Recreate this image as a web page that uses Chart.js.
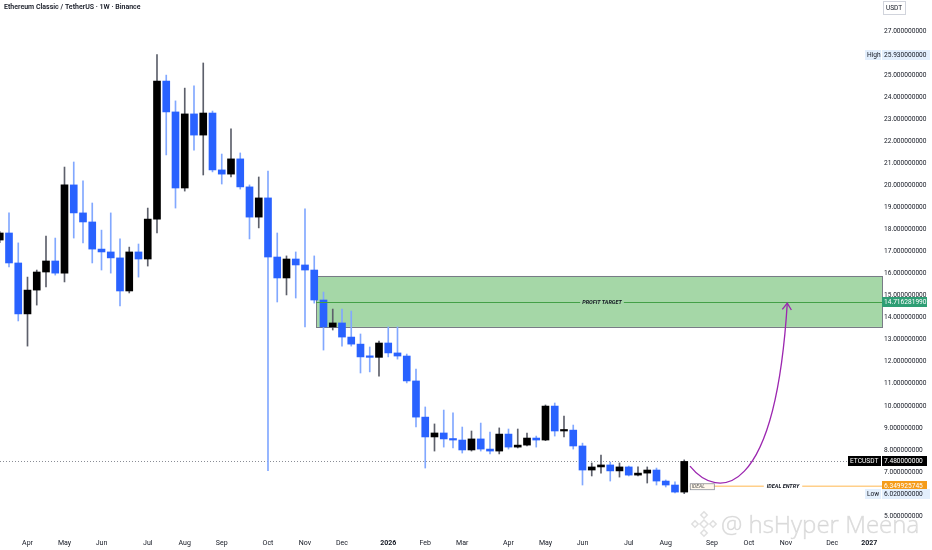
<!DOCTYPE html>
<html>
<head>
<meta charset="utf-8">
<title>ETCUSDT 1W</title>
<script src="https://cdn.jsdelivr.net/npm/chart.js@4.4.1/dist/chart.umd.min.js"></script>
<style>
    html, body { margin: 0; padding: 0; background: #fff; }
    #wrap { width: 932px; height: 550px; }
</style>
</head>
<body>
<div id="wrap"><canvas id="etc-chart" width="932" height="550"></canvas></div>
<script>
// Weekly candles, week of Mar 17 2025 -> week of Aug 17 2026 (x = bar number)
const opens = [
    17.52, 17.84, 16.48, 14.17, 15.25, 16.07, 16.57, 16.02, 20.02, 18.75,
    18.34, 17.11, 16.98, 16.71, 15.21, 16.98, 16.66, 18.47, 24.73, 23.33,
    19.88, 23.24, 22.28, 23.28, 20.70, 20.51, 21.20, 19.93, 18.56, 19.43,
    16.75, 15.80, 16.66, 16.39, 16.16, 14.80, 13.58, 13.76, 13.12, 12.80,
    12.22, 12.20, 12.85, 12.40, 12.26, 11.13, 9.49, 8.59, 8.77, 8.50,
    8.45, 8.00, 8.50, 8.04, 7.95, 8.72, 8.13, 8.22, 8.54, 8.45,
    9.99, 8.86, 8.90, 8.18, 7.09, 7.23, 7.32, 7.05, 7.23, 6.86,
    6.95, 7.09, 6.59, 6.41, 6.09
];
const highs = [
    17.90, 18.75, 17.39, 15.84, 16.16, 17.70, 17.61, 20.83, 21.06, 20.20,
    19.20, 17.97, 18.75, 17.57, 17.20, 17.34, 18.97, 25.93, 25.00, 23.83,
    24.41, 24.51, 25.55, 23.37, 21.42, 22.56, 21.47, 20.02, 20.38, 20.65,
    17.84, 16.80, 16.98, 18.93, 16.80, 15.16, 14.39, 14.39, 14.30, 13.26,
    12.67, 12.94, 13.58, 13.58, 12.35, 11.67, 9.95, 9.18, 9.81, 9.68,
    9.04, 8.86, 9.22, 8.81, 9.00, 8.95, 8.95, 8.77, 8.63, 10.04,
    10.13, 9.54, 9.13, 8.31, 7.41, 7.77, 7.45, 7.41, 7.27, 7.23,
    7.23, 7.18, 6.64, 6.55, 7.55
];
const lows = [
    17.40, 16.30, 13.85, 12.71, 14.57, 15.39, 15.93, 15.62, 17.61, 17.39,
    16.48, 16.16, 16.02, 14.53, 15.12, 15.84, 16.34, 17.84, 21.38, 18.97,
    19.74, 21.60, 20.47, 20.61, 20.06, 20.38, 19.83, 17.57, 18.07, 7.06,
    14.71, 15.03, 14.89, 13.58, 14.66, 12.53, 13.44, 12.71, 12.71, 11.49,
    11.54, 11.35, 12.22, 12.12, 11.04, 9.04, 7.18, 7.95, 8.13, 8.09,
    7.86, 7.95, 7.95, 7.82, 7.82, 8.04, 8.09, 8.18, 8.13, 8.42,
    8.63, 8.59, 8.04, 6.41, 6.82, 6.95, 6.59, 6.77, 6.82, 6.82,
    6.50, 6.41, 6.32, 6.05, 6.02
];
const closes = [
    17.84, 16.48, 14.17, 15.25, 16.07, 16.57, 16.02, 20.02, 18.75, 18.34,
    17.11, 16.98, 16.71, 15.21, 16.98, 16.66, 18.47, 24.73, 23.33, 19.88,
    23.24, 22.28, 23.28, 20.70, 20.51, 21.20, 19.93, 18.56, 19.43, 16.75,
    15.80, 16.66, 16.39, 16.16, 14.80, 13.58, 13.76, 13.12, 12.80, 12.22,
    12.20, 12.85, 12.40, 12.26, 11.13, 9.49, 8.59, 8.77, 8.50, 8.45,
    8.00, 8.50, 8.04, 7.95, 8.72, 8.13, 8.22, 8.54, 8.45, 9.99,
    8.86, 8.90, 8.18, 7.09, 7.23, 7.32, 7.05, 7.23, 6.86, 6.95,
    7.09, 6.59, 6.41, 6.09, 7.48
];

// Time axis: bar number of the first week of each month, and its label
const monthTickIdx = [3, 7, 11, 16, 20, 24, 29, 33, 37, 42, 46, 50, 55, 59, 63, 68, 72, 77, 81, 85, 90, 94];
const monthTickLabels = ['Apr', 'May', 'Jun', 'Jul', 'Aug', 'Sep', 'Oct', 'Nov', 'Dec', '2026', 'Feb', 'Mar',
    'Apr', 'May', 'Jun', 'Jul', 'Aug', 'Sep', 'Oct', 'Nov', 'Dec', '2027'];

// Price axis ticks
const priceTicks = [5, 6, 7, 8, 9, 10, 11, 12, 13, 14, 15, 16, 17, 18, 19, 20, 21, 22, 23, 24, 25, 26, 27];

// Levels and drawings (bar number / price)
const lastPrice = 7.48;
const highPrice = 25.93;
const lowPrice = 6.02;
const profitTarget = 14.716281990;
const zoneRange = [34.2, 13.58, 15.89];      // start bar, bottom, top
const idealEntry = 6.349925745;
const idealBox = [74.6, 77.2, 6.22, 6.49];    // bar from, bar to, price low, price high
const curveBars = [74.62, 77.6, 83.81, 85.14];
const curvePrices = [7.27, 5.73, 5.73, 14.66];

const FONT = 'Roboto, "Liberation Sans", sans-serif';
const TEXT = '#131722';

function fmt(v) {
    return Number(v).toFixed(9);
}

function tag(ctx, text, x, yc, w, bg, fg) {
    ctx.fillStyle = bg;
    ctx.fillRect(x, Math.round(yc) - 5, w, 10);
    ctx.fillStyle = fg;
    ctx.textAlign = 'left';
    ctx.textBaseline = 'middle';
    ctx.fillText(text, x + 2, Math.round(yc) + 0.5);
}

const overlayPlugin = {
    id: 'overlays',

    beforeDatasetsDraw(chart) {
        const { ctx, chartArea: a, scales: { x, y } } = chart;
        ctx.save();

        // profit target zone
        const zx = x.getPixelForValue(zoneRange[0]);
        const zb = y.getPixelForValue(zoneRange[1]);
        const zt = y.getPixelForValue(zoneRange[2]);
        ctx.fillStyle = 'rgba(76, 175, 80, 0.5)';
        ctx.fillRect(zx, zt, a.right - zx, zb - zt);
        ctx.strokeStyle = '#787b86';
        ctx.lineWidth = 1;
        ctx.strokeRect(Math.round(zx) + 0.5, Math.round(zt) + 0.5, a.right - Math.round(zx), Math.round(zb - zt));

        // last price dotted line
        const ly = Math.round(y.getPixelForValue(lastPrice)) + 0.5;
        ctx.strokeStyle = '#8a8d96';
        ctx.setLineDash([1, 2]);
        ctx.beginPath();
        ctx.moveTo(a.left, ly);
        ctx.lineTo(a.right, ly);
        ctx.stroke();
        ctx.setLineDash([]);
        ctx.restore();
    },

    afterDatasetsDraw(chart) {
        const { ctx, chartArea: a, scales: { x, y } } = chart;
        ctx.save();

        // profit target line with label
        const zx = x.getPixelForValue(zoneRange[0]);
        const py = Math.round(y.getPixelForValue(profitTarget)) + 0.5;
        ctx.font = 'italic bold 5.5px ' + FONT;
        const ptText = 'PROFIT TARGET';
        const ptW = ctx.measureText(ptText).width;
        const ptX = 602;
        ctx.strokeStyle = '#43a047';
        ctx.lineWidth = 1;
        ctx.beginPath();
        ctx.moveTo(zx, py);
        ctx.lineTo(ptX - ptW / 2 - 2, py);
        ctx.moveTo(ptX + ptW / 2 + 2, py);
        ctx.lineTo(a.right, py);
        ctx.stroke();
        ctx.fillStyle = TEXT;
        ctx.textAlign = 'center';
        ctx.textBaseline = 'middle';
        ctx.fillText(ptText, ptX, py);

        // ideal entry line + box
        const ey = y.getPixelForValue(idealEntry);
        const ex0 = x.getPixelForValue(idealBox[0]);
        const ex1 = x.getPixelForValue(idealBox[1]);
        const ieText = 'IDEAL ENTRY';
        const ieW = ctx.measureText(ieText).width;
        const ieX = 783;
        ctx.strokeStyle = '#ffcf8a';
        ctx.lineWidth = 1.5;
        ctx.beginPath();
        ctx.moveTo(ex0, ey);
        ctx.lineTo(ieX - ieW / 2 - 3, ey);
        ctx.moveTo(ieX + ieW / 2 + 3, ey);
        ctx.lineTo(a.right, ey);
        ctx.stroke();
        ctx.fillStyle = TEXT;
        ctx.fillText(ieText, ieX, ey);

        const by0 = y.getPixelForValue(idealBox[3]);
        const by1 = y.getPixelForValue(idealBox[2]);
        ctx.fillStyle = '#fff8ec';
        ctx.fillRect(ex0, by0, ex1 - ex0, by1 - by0);
        ctx.strokeStyle = '#8a8d96';
        ctx.lineWidth = 0.8;
        ctx.strokeRect(ex0 + 0.5, by0 + 0.5, ex1 - ex0, by1 - by0);
        ctx.fillStyle = '#555';
        ctx.textAlign = 'left';
        ctx.font = 'italic 5px ' + FONT;
        ctx.fillText('IDEAL', ex0 + 2, (by0 + by1) / 2 + 0.5);

        // projected path
        const p = curveBars.map((b, i) => [x.getPixelForValue(b), y.getPixelForValue(curvePrices[i])]);
        ctx.strokeStyle = '#9c27b0';
        ctx.lineWidth = 1.3;
        ctx.beginPath();
        ctx.moveTo(p[0][0], p[0][1]);
        ctx.bezierCurveTo(p[1][0], p[1][1], p[2][0], p[2][1], p[3][0], p[3][1]);
        ctx.stroke();
        const ang = Math.atan2(p[3][1] - p[2][1], p[3][0] - p[2][0]);
        ctx.beginPath();
        ctx.moveTo(p[3][0] - 8 * Math.cos(ang - 0.6), p[3][1] - 8 * Math.sin(ang - 0.6));
        ctx.lineTo(p[3][0], p[3][1]);
        ctx.lineTo(p[3][0] - 8 * Math.cos(ang + 0.6), p[3][1] - 8 * Math.sin(ang + 0.6));
        ctx.stroke();

        ctx.restore();
    },

    afterDraw(chart) {
        const { ctx, chartArea: a, scales: { y } } = chart;
        ctx.save();

        // watermark
        ctx.strokeStyle = 'rgba(150, 150, 150, 0.3)';
        ctx.lineWidth = 1.5;
        const lx = 704, lyc = 524;
        [[0, -9], [-9, 0], [9, 0], [0, 9], [0, 0]].forEach(([dx, dy], k) => {
            const s = k === 4 ? 4 : 3.2;
            ctx.beginPath();
            ctx.moveTo(lx + dx, lyc + dy - s);
            ctx.lineTo(lx + dx + s, lyc + dy);
            ctx.lineTo(lx + dx, lyc + dy + s);
            ctx.lineTo(lx + dx - s, lyc + dy);
            ctx.closePath();
            ctx.stroke();
        });
        ctx.font = '300 24px "Open Sans", sans-serif';
        ctx.fillStyle = 'rgba(130, 130, 130, 0.22)';
        ctx.strokeStyle = 'rgba(120, 120, 120, 0.18)';
        ctx.lineWidth = 0.6;
        ctx.textAlign = 'left';
        ctx.textBaseline = 'alphabetic';
        ctx.fillText('@ hsHyper Meena', 721, 533);
        ctx.strokeText('@ hsHyper Meena', 721, 533);

        // title
        ctx.font = '600 7px ' + FONT;
        ctx.fillStyle = TEXT;
        ctx.textBaseline = 'middle';
        ctx.fillText('Ethereum Classic / TetherUS · 1W · Binance', 4, 7.5);

        // currency box
        ctx.strokeStyle = '#d1d4dc';
        ctx.lineWidth = 1;
        ctx.strokeRect(883.5, 1.5, 22, 13);
        ctx.font = '6.5px ' + FONT;
        ctx.fillText('USDT', 886, 8.5);

        // price axis tags
        const ax = a.right;
        ctx.font = '6.6px ' + FONT;
        tag(ctx, 'High', ax - 17, y.getPixelForValue(highPrice), 16, '#e3effd', TEXT);
        tag(ctx, fmt(highPrice), ax, y.getPixelForValue(highPrice), 48, '#e3effd', TEXT);
        tag(ctx, 'ETCUSDT', ax - 34, y.getPixelForValue(lastPrice), 33, '#000', '#fff');
        tag(ctx, fmt(lastPrice), ax, y.getPixelForValue(lastPrice), 45, '#000', '#fff');
        tag(ctx, profitTarget.toFixed(9), ax, y.getPixelForValue(profitTarget), 45, '#2e9e74', '#fff');
        tag(ctx, idealEntry.toFixed(9), ax, y.getPixelForValue(idealEntry), 45, '#f59c1a', '#fff');
        tag(ctx, 'Low', ax - 17, y.getPixelForValue(lowPrice), 16, '#e3effd', TEXT);
        tag(ctx, fmt(lowPrice), ax, y.getPixelForValue(lowPrice), 48, '#e3effd', TEXT);

        ctx.restore();
    }
};

const bars = opens.map((_, i) => i);
const isUp = i => closes[i] >= opens[i];

const chart = new Chart(document.getElementById('etc-chart'), {
    type: 'bar',
    data: {
        datasets: [
            {
                label: 'Wick',
                data: bars.map(i => ({ x: i, y: [lows[i], highs[i]] })),
                backgroundColor: bars.map(i => isUp(i) ? '#5d606b' : '#82a8ff'),
                barThickness: 1,
                grouped: false,
                order: 2
            },
            {
                label: 'Body',
                data: bars.map(i => ({ x: i, y: [opens[i], closes[i]] })),
                backgroundColor: bars.map(i => isUp(i) ? '#000000' : '#2962ff'),
                barThickness: 7,
                minBarLength: 1.5,
                grouped: false,
                order: 1
            }
        ]
    },
    options: {
        responsive: false,
        animation: false,
        layout: { padding: 0 },
        plugins: {
            legend: { display: false },
            tooltip: { enabled: false }
        },
        scales: {
            x: {
                type: 'linear',
                min: 0.027,
                max: 95.38,
                offset: false,
                grid: { display: false, drawTicks: false },
                border: { display: false },
                afterBuildTicks: scale => {
                    scale.ticks = monthTickIdx.map(v => ({ value: v }));
                },
                afterFit: scale => { scale.height = 20; },
                ticks: {
                    autoSkip: false,
                    maxRotation: 0,
                    minRotation: 0,
                    padding: 9,
                    color: TEXT,
                    font: ctx => ({
                        family: FONT,
                        size: 7,
                        weight: /^\d{4}$/.test(monthTickLabels[ctx.index]) ? 'bold' : 'normal'
                    }),
                    callback: (value, index) => monthTickLabels[index]
                }
            },
            y: {
                type: 'linear',
                position: 'right',
                min: 4.37,
                max: 28.406,
                beginAtZero: false,
                grid: { display: false, drawTicks: false },
                border: { display: false },
                afterBuildTicks: scale => {
                    // TradingView hides ticks that collide with the High / Low tags
                    scale.ticks = priceTicks
                        .filter(v => Math.abs(v - highPrice) > 0.3 && Math.abs(v - lowPrice) > 0.3)
                        .map(v => ({ value: v }));
                },
                afterFit: scale => {
                    scale.width = 50;
                    // let the plot run to the top edge like the original
                    scale.paddingTop = 0;
                    scale.paddingBottom = 0;
                },
                ticks: {
                    padding: 2,
                    color: TEXT,
                    font: { family: FONT, size: 6.6 },
                    callback: value => fmt(value)
                }
            }
        }
    },
    plugins: [overlayPlugin]
});
</script>
</body>
</html>
